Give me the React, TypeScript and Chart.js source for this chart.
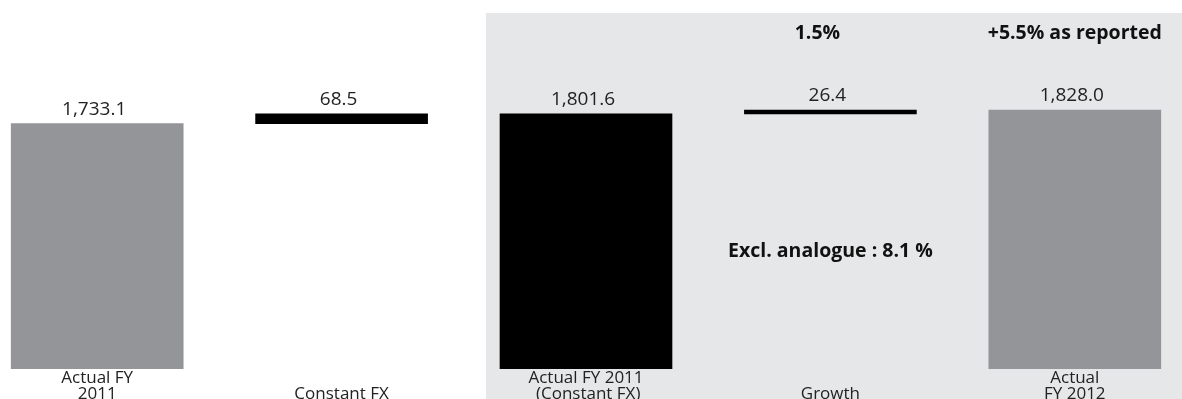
import React, { useEffect, useRef } from "react";
import { Chart, registerables } from "chart.js";

Chart.register(...registerables);

const categories: string[][] = [
  ["Actual FY", "2011"],
  ["", "Constant FX"],
  ["Actual FY 2011", " (Constant FX)"],
  ["", "Growth"],
  ["Actual", "FY 2012"],
];
const values = [1733.1, 68.5, 1801.6, 26.4, 1828.0];
const isTotal = [true, false, true, false, true];
const valueLabels = ["1,733.1", "68.5", "1,801.6", "26.4", "1,828.0"];
const barColors = ["#939598", "#000000", "#000000", "#000000", "#939598"];
const topNotes = ["", "", "", "1.5%", "+5.5% as reported"];
const midNote = "Excl. analogue : 8.1 %";
const midNoteIndex = 3;

const FONT = "'Open Sans', 'Noto Sans', sans-serif";

export default function App() {
  const ref = useRef<HTMLCanvasElement | null>(null);

  useEffect(() => {
    if (!ref.current) return;
    let running = 0;
    const ranges = values.map((v, i) => {
      if (isTotal[i]) {
        running = v;
        return [0, v];
      }
      const r = [running, running + v];
      running += v;
      return r;
    });

    const bgPlugin = {
      id: "bgPanel",
      beforeDraw(chart: any) {
        const ctx = chart.ctx;
        const x = chart.scales.x.getPixelForValue(2) - 100;
        ctx.save();
        ctx.fillStyle = "#e6e7e8";
        ctx.fillRect(x, 13, chart.width - x, chart.height - 13);
        ctx.restore();
      },
    };

    const labelPlugin = {
      id: "valueLabels",
      afterDatasetsDraw(chart: any) {
        const ctx = chart.ctx;
        const meta = chart.getDatasetMeta(0);
        ctx.save();
        ctx.fillStyle = "#222";
        ctx.textAlign = "center";
        ctx.textBaseline = "alphabetic";
        ctx.font = `19px ${FONT}`;
        meta.data.forEach((bar: any, i: number) => {
          const top = Math.min(bar.y, bar.base);
          ctx.fillText(valueLabels[i], bar.x - 3, top - 9);
        });
        ctx.font = `bold 19.5px ${FONT}`;
        ctx.fillStyle = "#111";
        topNotes.forEach((t, i) => {
          if (!t) return;
          const x = chart.scales.x.getPixelForValue(i) - (i === 3 ? 13 : 0);
          ctx.fillText(t, x, 39);
        });
        const mx = chart.scales.x.getPixelForValue(midNoteIndex);
        ctx.fillText(midNote, mx, 257);
        ctx.restore();
      },
    };

    const chart = new Chart(ref.current, {
      type: "bar",
      data: {
        labels: categories,
        datasets: [
          {
            data: ranges as any,
            backgroundColor: barColors,
            barThickness: 172,
            borderWidth: 0,
            borderSkipped: false,
          },
        ],
      },
      options: {
        animation: false,
        responsive: true,
        maintainAspectRatio: false,
        layout: { padding: { top: 15, left: 0, right: 0, bottom: 0 } },
        plugins: {
          legend: { display: false },
          tooltip: { enabled: false },
        },
        scales: {
          x: {
            grid: { display: false, drawTicks: false },
            border: { display: false },
            ticks: {
              color: "#222",
              font: { family: FONT, size: 17, lineHeight: "16px" },
              padding: 1,
              maxRotation: 0,
              autoSkip: false,
            },
            afterFit(scale: any) {
              scale.height = 30;
            },
          },
          y: {
            display: false,
            min: 0,
            max: 2500,
          },
        },
      },
      plugins: [bgPlugin, labelPlugin],
    });
    return () => chart.destroy();
  }, []);

  return (
    <div
      style={{
        position: "fixed",
        left: -25,
        top: 0,
        width: 1222,
        height: 399,
        background: "#fff",
      }}
    >
      <canvas ref={ref} />
    </div>
  );
}
